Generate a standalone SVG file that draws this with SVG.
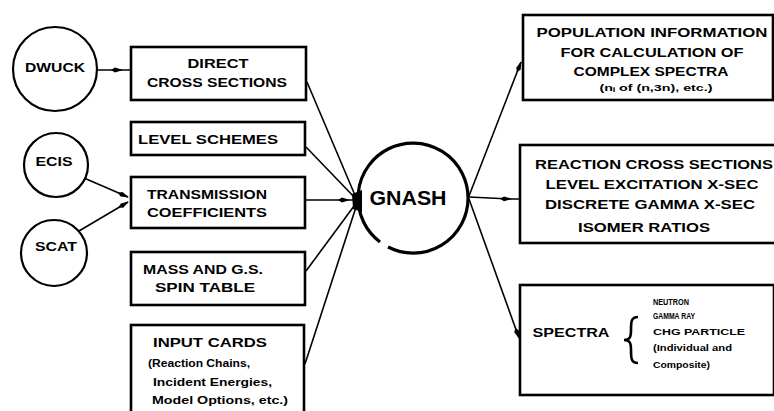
<svg xmlns="http://www.w3.org/2000/svg" width="774" height="411" viewBox="0 0 774 411">
<defs>
<style>
.bx{fill:#fff;stroke:#000;stroke-width:2.6}
.ci{fill:#fff;stroke:#000;stroke-width:2.2}
.cn{fill:none;stroke:#000;stroke-width:1.6}
text{font-family:"Liberation Sans",Arial,sans-serif;font-weight:bold;fill:#000}
.c{text-anchor:middle}
.t{font-size:12px}
.s{font-size:10px}
.xs{font-size:9px}
</style>
<marker id="ah" viewBox="0 0 12 6" refX="11" refY="3" markerWidth="12" markerHeight="6" markerUnits="userSpaceOnUse" orient="auto">
<path d="M0,3 L4,0.6 L12,3 L4,5.4 z" fill="#000"/>
</marker>
</defs>
<rect width="774" height="411" fill="#fff"/>

<g id="connectors">
<path class="cn" d="M97,70 L122,70 L131,70" marker-mid="url(#ah)"/>
<path class="cn" d="M84,178 L128,197" marker-end="url(#ah)"/>
<path class="cn" d="M79,231 L128,202" marker-end="url(#ah)"/>
<path class="cn" d="M307,82 L357,200"/>
<path class="cn" d="M306,147 L357,200"/>
<path class="cn" d="M306,200 L349,200 L358,200" marker-mid="url(#ah)"/>
<path class="cn" d="M306,271 L357,202"/>
<path class="cn" d="M305,364 L357,204"/>
<path d="M352,194 L362,190 L362,212 L353,209 z" fill="#000"/>
<path class="cn" d="M469,196 L521,62" marker-end="url(#ah)"/>
<path class="cn" d="M469,197 L511,199 L520,199" marker-mid="url(#ah)"/>
<path class="cn" d="M469,199 L519,338" marker-end="url(#ah)"/>
</g>

<g id="dwuck"><circle class="ci" cx="55" cy="69" r="42"/><text class="t c" x="55" y="72" textLength="60" lengthAdjust="spacingAndGlyphs">DWUCK</text></g>
<g id="ecis"><circle class="ci" cx="56" cy="165" r="32"/><text class="t c" x="54" y="166" textLength="37" lengthAdjust="spacingAndGlyphs">ECIS</text></g>
<g id="scat"><circle class="ci" cx="54" cy="253" r="33"/><text class="t c" x="56" y="251" textLength="42" lengthAdjust="spacingAndGlyphs">SCAT</text></g>

<g id="direct"><rect class="bx" x="131" y="47" width="175" height="53"/>
<text class="t c" x="218" y="68" textLength="61" lengthAdjust="spacingAndGlyphs">DIRECT</text>
<text class="t c" x="217" y="87" textLength="140" lengthAdjust="spacingAndGlyphs">CROSS SECTIONS</text></g>
<g id="level"><rect class="bx" x="131" y="122" width="174" height="33"/>
<text class="t c" x="208" y="144" textLength="140" lengthAdjust="spacingAndGlyphs">LEVEL SCHEMES</text></g>
<g id="trans"><rect class="bx" x="131" y="177" width="174" height="51"/>
<text class="t c" x="207" y="199" textLength="120" lengthAdjust="spacingAndGlyphs">TRANSMISSION</text>
<text class="t c" x="207" y="217" textLength="120" lengthAdjust="spacingAndGlyphs">COEFFICIENTS</text></g>
<g id="mass"><rect class="bx" x="131" y="252" width="174" height="53"/>
<text class="t c" x="203" y="274" textLength="120" lengthAdjust="spacingAndGlyphs">MASS AND G.S.</text>
<text class="t c" x="205" y="292" textLength="100" lengthAdjust="spacingAndGlyphs">SPIN TABLE</text></g>
<g id="input"><rect class="bx" x="131" y="325" width="173" height="92"/>
<text class="t c" x="210" y="347" textLength="114" lengthAdjust="spacingAndGlyphs">INPUT CARDS</text>
<text class="s" x="148" y="367" textLength="102" lengthAdjust="spacingAndGlyphs">(Reaction Chains,</text>
<text class="s" x="153" y="386" textLength="119" lengthAdjust="spacingAndGlyphs">Incident Energies,</text>
<text class="s" x="152" y="404" textLength="136" lengthAdjust="spacingAndGlyphs">Model Options, etc.)</text></g>

<g id="gnash">
<path d="M380,242 A55,55 0 1 1 388,247" fill="none" stroke="#000" stroke-width="3.2"/>
<text class="c" x="408" y="205" font-size="20" textLength="77" lengthAdjust="spacingAndGlyphs">GNASH</text></g>

<g id="population"><rect class="bx" x="523" y="15" width="250" height="85"/>
<text class="t c" x="652" y="37" textLength="231" lengthAdjust="spacingAndGlyphs">POPULATION INFORMATION</text>
<text class="t c" x="652" y="57" textLength="183" lengthAdjust="spacingAndGlyphs">FOR CALCULATION OF</text>
<text class="t c" x="651" y="76" textLength="155" lengthAdjust="spacingAndGlyphs">COMPLEX SPECTRA</text>
<text class="xs c" x="656" y="91" textLength="113" lengthAdjust="spacingAndGlyphs">(nᵢ of (n,3n), etc.)</text></g>
<g id="reaction"><rect class="bx" x="520" y="145" width="256" height="98"/>
<text class="t c" x="654" y="169" textLength="238" lengthAdjust="spacingAndGlyphs">REACTION CROSS SECTIONS</text>
<text class="t c" x="652" y="189" textLength="213" lengthAdjust="spacingAndGlyphs">LEVEL EXCITATION X-SEC</text>
<text class="t c" x="650" y="209" textLength="210" lengthAdjust="spacingAndGlyphs">DISCRETE GAMMA X-SEC</text>
<text class="t c" x="644" y="232" textLength="132" lengthAdjust="spacingAndGlyphs">ISOMER RATIOS</text></g>
<g id="spectra"><rect class="bx" x="520" y="285" width="254" height="110"/>
<text class="t c" x="571" y="337" textLength="77" lengthAdjust="spacingAndGlyphs">SPECTRA</text>
<path d="M638,317 C631,317 631,322 631,330 C631,337 630,340 624,340 C630,340 631,343 631,350 C631,358 631,363 638,363" fill="none" stroke="#000" stroke-width="2.6"/>
<text class="xs" x="653" y="305" textLength="36" lengthAdjust="spacingAndGlyphs">NEUTRON</text>
<text class="xs" x="653" y="319" textLength="42" lengthAdjust="spacingAndGlyphs">GAMMA RAY</text>
<text class="xs" x="653" y="335" textLength="92" lengthAdjust="spacingAndGlyphs">CHG PARTICLE</text>
<text class="xs" x="653" y="351" textLength="79" lengthAdjust="spacingAndGlyphs">(Individual and</text>
<text class="xs" x="653" y="368" textLength="57" lengthAdjust="spacingAndGlyphs">Composite)</text></g>
</svg>
